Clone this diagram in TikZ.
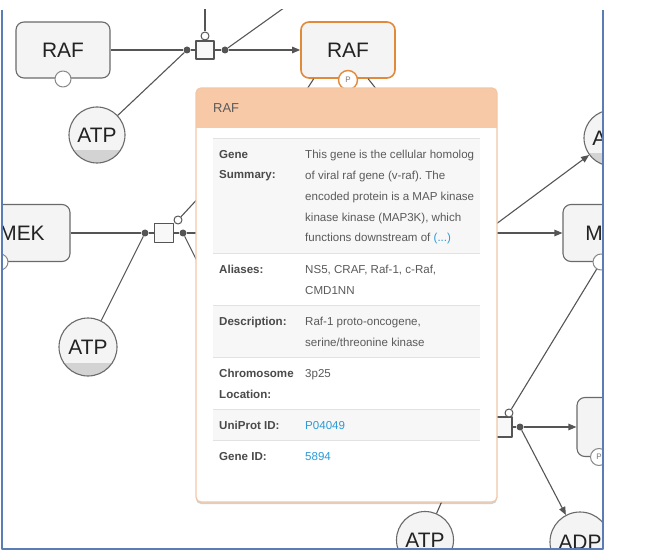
\documentclass[tikz,border=0pt]{standalone}
\usepackage{fontspec}
\setmainfont{Liberation Sans}
\usetikzlibrary{arrows.meta,shadows}
\frenchspacing
\definecolor{lncol}{HTML}{555555}
\definecolor{edgecol}{HTML}{6A6A6A}
\definecolor{nodefill}{HTML}{F4F4F4}
\definecolor{molgray}{HTML}{D3D3D3}
\definecolor{txtcol}{HTML}{222222}
\definecolor{rafor}{HTML}{E08A3A}
\definecolor{pcol}{HTML}{777777}
\definecolor{hdrfill}{HTML}{F8C9A6}
\definecolor{popline}{HTML}{F3C7A5}
\definecolor{rowgray}{HTML}{F7F7F7}
\definecolor{rowline}{HTML}{E2E2E2}
\definecolor{keycol}{HTML}{4A4A4A}
\definecolor{valcol}{HTML}{5A5A5A}
\definecolor{linkcol}{HTML}{2B9AD8}
\definecolor{framecol}{HTML}{5A7DB6}

\begin{document}
\begin{tikzpicture}[x=1bp, y=-1bp, line join=round,
  ln/.style={draw=lncol, line width=1.1bp},
  arr/.style={ln, -{Triangle[length=8bp, width=6.5bp]}},
  entity/.style={draw=edgecol, fill=nodefill, rounded corners=8bp, line width=1.1bp, minimum width=94bp, minimum height=56bp, inner sep=0pt, text=txtcol, font=\fontsize{21}{21}\selectfont},
  molecule/.style={circle, draw=edgecol, fill=nodefill, line width=1.1bp, minimum size=56bp, inner sep=0pt, text=txtcol, font=\fontsize{21}{21}\selectfont,
    path picture={\fill[molgray] (path picture bounding box.south west) rectangle ([yshift=13bp]path picture bounding box.south east);}},
  statevar/.style={circle, draw=edgecol!80, fill=white, line width=1bp, minimum size=16bp, inner sep=0pt, text=pcol, font=\fontsize{8}{8}\selectfont},
  proc/.style={draw=lncol, fill=nodefill!60, line width=1.1bp, minimum size=18bp, inner sep=0pt},
  knob/.style={circle, draw=lncol, fill=white, line width=1bp, minimum size=8bp, inner sep=0pt},
  jdot/.style={circle, fill=lncol, minimum size=7bp, inner sep=0pt},
  hdrtxt/.style={anchor=base west, inner sep=0pt, text=valcol, font=\fontsize{13}{13}\selectfont},
  cellkey/.style={anchor=base west, inner sep=0pt, align=left, text=keycol, font=\fontsize{11.6}{21}\selectfont\bfseries},
  cellval/.style={anchor=base west, inner sep=0pt, align=left, text=valcol, font=\fontsize{11.6}{21}\selectfont}]
\useasboundingbox (0,0) rectangle (665,558);
\begin{scope}
\clip (2,10) rectangle (603,549);
\node[entity] (raf1) at (63,50) {RAF};
\node[statevar] (raf1sv) at (63,79) {};
\node[molecule] (atp1) at (97,135) {ATP};
\node[jdot] (d1) at (187,50) {};
\node[proc] (p1) at (205,50) {};
\node[knob] (p1k) at (205,36) {};
\coordinate (top1) at (205,0);
\node[jdot] (d2) at (225,50) {};
\coordinate (top2) at (295,0);
\node[entity, draw=rafor, line width=1.6bp] (raf2) at (348,50) {RAF};
\node[statevar, draw=rafor, line width=1.4bp, minimum size=19bp] (raf2sv) at (348,80) {P};
\coordinate (r2l) at (300,100);
\coordinate (r2r) at (385,100);

\node[entity, minimum width=96bp, minimum height=57bp] (mek1) at (22,233) {MEK};
\node[statevar] (mek1sv) at (0,262) {};
\node[molecule, minimum size=58bp] (atp2) at (88,347) {ATP};
\node[jdot] (d3) at (145,233) {};
\node[proc, minimum size=19bp] (p2) at (164,233) {};
\node[knob] (p2k) at (178,220) {};
\node[jdot] (d4) at (183,233) {};
\coordinate (h1) at (215,180);
\coordinate (h2) at (240,233);
\coordinate (h3) at (207,281);

\coordinate (d5) at (484,233);
\node[molecule] (atp3) at (612,138) {ATP};
\node[entity, minimum width=90bp, minimum height=57bp] (mek2) at (608,233) {MEK};
\node[statevar] (mek2sv) at (601,262) {};
\node[proc, minimum size=20bp] (p3) at (502,427) {};
\node[knob] (p3k) at (509,413) {};
\node[jdot] (d6) at (520,427) {};
\coordinate (h4) at (460,427);
\node[entity, minimum width=70bp, minimum height=59bp] (rn) at (612,427) {};
\node[statevar, minimum size=17bp] (rnsv) at (599,457) {P};
\node[molecule, minimum size=60bp] (adp) at (580,542) {ADP};
\node[molecule, minimum size=57bp] (atp4) at (425,540) {ATP};
\coordinate (h5) at (452,478);

\draw[ln] (raf1) -- (d1) -- (p1);
\draw[ln] (atp1) -- (d1);
\draw[ln] (p1k) -- (top1);
\draw[ln] (p1) -- (d2);
\draw[arr] (d2) -- (raf2);
\draw[ln] (d2) -- (top2);
\draw[ln] (raf2.220) -- (r2l);
\draw[ln] (raf2.305) -- (r2r);
\draw[ln] (mek1) -- (d3) -- (p2);
\draw[ln] (atp2) -- (d3);
\draw[ln] (p2) -- (d4) -- (h2);
\draw[ln] (d4) -- (h3);
\draw[ln] (p2k) -- (h1);
\draw[arr] (d5) -- (atp3);
\draw[arr] (d5) -- (mek2);
\draw[ln] (mek2sv) -- (p3k);
\draw[ln] (h4) -- (p3) -- (d6);
\draw[arr] (d6) -- (rn);
\draw[arr] (d6) -- (adp);
\draw[ln] (atp4) -- (h5);
\end{scope}
\draw[framecol, line width=1.5bp] (2,10) -- (2,549) -- (603,549) -- (603,10);

\path[fill=white, rounded corners=5bp, drop shadow={shadow xshift=0bp, shadow yshift=-2bp, opacity=0.18, fill=black}] (196,88) rectangle (497,502);
\begin{scope}
\clip[rounded corners=5bp] (196,88) rectangle (497,502);
\fill[hdrfill] (196,88) rectangle (497,128);
\end{scope}
\fill[rowgray] (213,138) rectangle (480,253);
\fill[rowgray] (213,305) rectangle (480,357);
\fill[rowgray] (213,409) rectangle (480,440);
\draw[rowline] (213,138) -- (480,138);
\draw[rowline] (213,253) -- (480,253);
\draw[rowline] (213,305) -- (480,305);
\draw[rowline] (213,357) -- (480,357);
\draw[rowline] (213,409) -- (480,409);
\draw[rowline] (213,440) -- (480,440);
\draw[popline, line width=1.3bp, rounded corners=5bp] (196,88) rectangle (497,502);

% multi-line cells sit on the baseline of their last line
\node[hdrtxt] (hdr) at (213,112.5) {RAF};
\node[cellkey] (k1) at (219,179) {Gene\\Summary:};
\node[cellval] (v1) at (305,242) {This gene is the cellular homolog\\of viral raf gene (v-raf). The\\encoded protein is a MAP kinase\\kinase kinase (MAP3K), which\\functions downstream of {\color{linkcol}(...)}};
\node[cellkey] (k2) at (219,273) {Aliases:};
\node[cellval] (v2) at (305,294) {NS5, CRAF, Raf-1, c-Raf,\\CMD1NN};
\node[cellkey] (k3) at (219,325) {Description:};
\node[cellval] (v3) at (305,346) {Raf-1 proto-oncogene,\\serine/threonine kinase};
\node[cellkey] (k4) at (219,398) {Chromosome\\Location:};
\node[cellval] (v4) at (305,377) {3p25};
\node[cellkey] (k5) at (219,429) {UniProt ID:};
\node[cellval, text=linkcol] (v5) at (305,429) {P04049};
\node[cellkey] (k6) at (219,460) {Gene ID:};
\node[cellval, text=linkcol] (v6) at (305,460) {5894};
\end{tikzpicture}
\end{document}
